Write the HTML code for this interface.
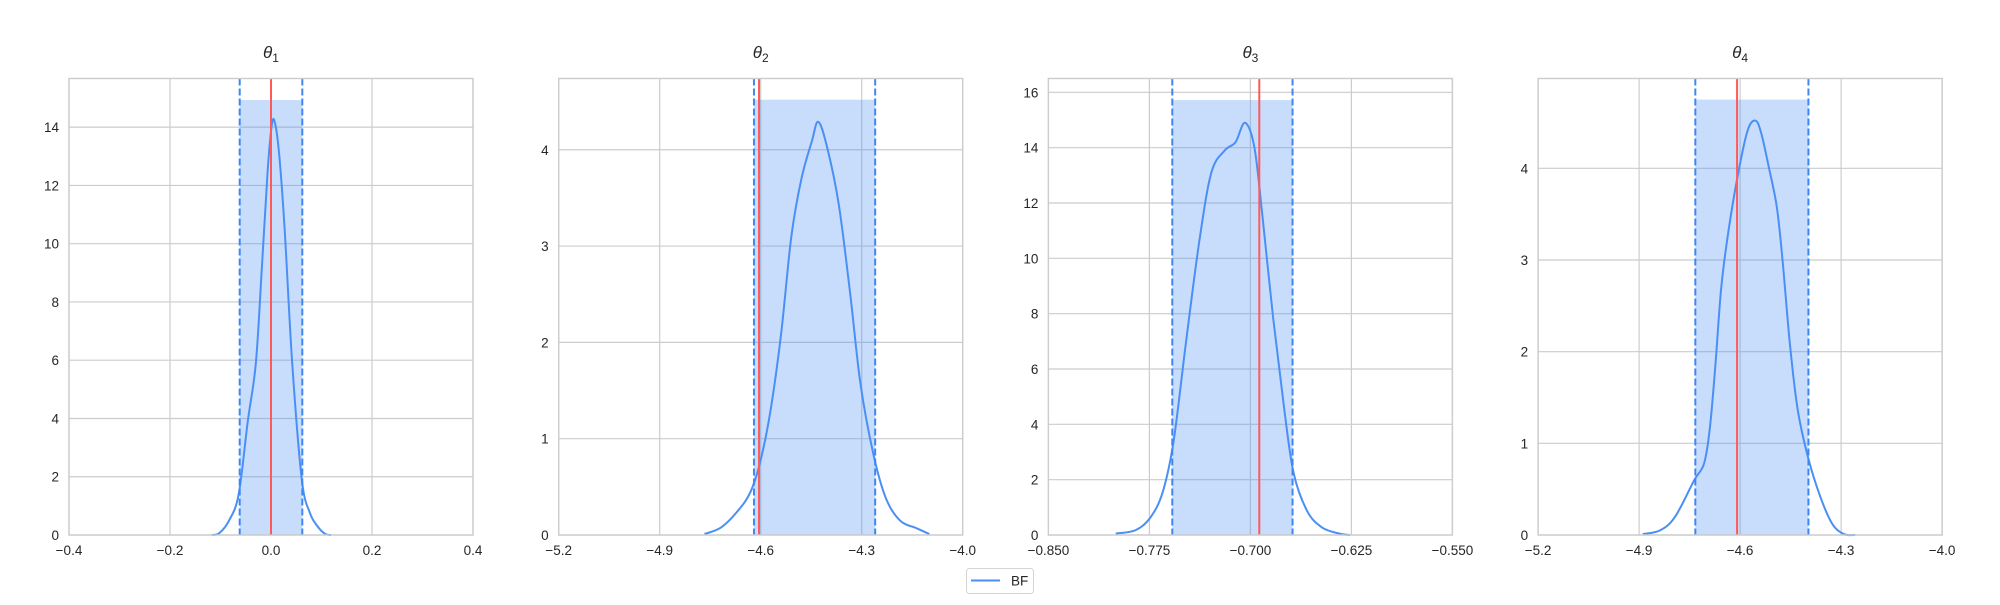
<!DOCTYPE html>
<html><head><meta charset="utf-8"><style>
body{margin:0;background:#fff;width:2000px;height:600px;overflow:hidden;font-family:"Liberation Sans","DejaVu Sans",sans-serif}
</style></head><body>
<svg id="chart" width="2000" height="600" xmlns="http://www.w3.org/2000/svg"></svg>
<script>
const titles=["1","2","3","4"];
const xDomains=[[-0.4,0.4],[-5.2,-4.0],[-0.85,-0.55],[-5.2,-4.0]];
const yMaxes=[15.67,4.74,16.5,4.98];
const xTickLabels=[["−0.4","−0.2","0.0","0.2","0.4"],["−5.2","−4.9","−4.6","−4.3","−4.0"],["−0.850","−0.775","−0.700","−0.625","−0.550"],["−5.2","−4.9","−4.6","−4.3","−4.0"]];
const xTickValues=[[-0.4,-0.2,0,0.2,0.4],[-5.2,-4.9,-4.6,-4.3,-4.0],[-0.85,-0.775,-0.7,-0.625,-0.55],[-5.2,-4.9,-4.6,-4.3,-4.0]];
const yTickValues=[[0,2,4,6,8,10,12,14],[0,1,2,3,4],[0,2,4,6,8,10,12,14,16],[0,1,2,3,4]];
const bandLo=[-0.062,-4.62,-0.758,-4.733];
const bandHi=[0.062,-4.26,-0.6687,-4.397];
const bandHeight=[14.93,4.52,15.72,4.75];
const trueValue=[0.0,-4.605,-0.6934,-4.609];
const kde1x=[-0.117,-0.102,-0.083,-0.064,-0.046,-0.030,-0.018,-0.007,0.001,0.007,0.016,0.027,0.042,0.061,0.077,0.092,0.107,0.119];
const kde1y=[0,0.07,0.5,1.4,3.9,5.9,9.2,12.4,14.0,14.2,13.1,10.5,5.9,1.9,0.76,0.3,0.04,0];
const kde2x=[-4.767,-4.717,-4.668,-4.630,-4.600,-4.570,-4.539,-4.509,-4.479,-4.448,-4.429,-4.403,-4.368,-4.334,-4.304,-4.266,-4.228,-4.186,-4.137,-4.099];
const kde2y=[0.01,0.08,0.25,0.45,0.78,1.31,2.1,3.1,3.7,4.09,4.29,4.03,3.43,2.5,1.58,0.85,0.38,0.15,0.07,0.01];
const kde3x=[-0.800,-0.785,-0.774,-0.765,-0.757,-0.748,-0.738,-0.729,-0.719,-0.711,-0.704,-0.697,-0.691,-0.683,-0.675,-0.668,-0.658,-0.647,-0.634,-0.626];
const kde3y=[0.05,0.18,0.65,1.57,3.4,6.9,10.6,13.1,13.9,14.2,14.9,14.0,11.5,7.8,4.6,2.26,0.88,0.28,0.05,0];
const kde4x=[-4.889,-4.838,-4.793,-4.736,-4.707,-4.690,-4.673,-4.656,-4.634,-4.605,-4.577,-4.554,-4.537,-4.514,-4.491,-4.474,-4.452,-4.429,-4.397,-4.361,-4.326,-4.292,-4.258];
const kde4y=[0.01,0.05,0.2,0.6,0.78,1.16,1.87,2.7,3.33,3.96,4.42,4.52,4.38,4.0,3.58,3.0,2.08,1.37,0.83,0.41,0.12,0.01,0];
const kdeX=[kde1x,kde2x,kde3x,kde4x];
const kdeY=[kde1y,kde2y,kde3y,kde4y];

const NS="http://www.w3.org/2000/svg";
const svg=document.getElementById('chart');
function mk(tag,attrs,parent){const e=document.createElementNS(NS,tag);for(const k in attrs)e.setAttribute(k,attrs[k]);(parent||svg).appendChild(e);return e;}
function smooth(pts){let d="M"+pts[0][0]+","+pts[0][1];for(let i=0;i<pts.length-1;i++){const p0=pts[Math.max(i-1,0)],p1=pts[i],p2=pts[i+1],p3=pts[Math.min(i+2,pts.length-1)];const c1=[p1[0]+(p2[0]-p0[0])/6,p1[1]+(p2[1]-p0[1])/6],c2=[p2[0]-(p3[0]-p1[0])/6,p2[1]-(p3[1]-p1[1])/6];d+=" C"+c1[0]+","+c1[1]+" "+c2[0]+","+c2[1]+" "+p2[0]+","+p2[1];}return d;}
const L0=69,PW=404,STEP=489.7,TOP=78.5,BOT=535;
for(let p=0;p<4;p++){
  const left=L0+STEP*p,right=left+PW;
  const [x0,x1]=xDomains[p];
  const X=v=>left+(v-x0)/(x1-x0)*PW;
  const Y=v=>BOT-v/yMaxes[p]*(BOT-TOP);
  const g=mk('g',{});
  
  
  xTickValues[p].forEach((v,i)=>{
    const l=mk('line',{x1:X(v),x2:X(v),y1:TOP,y2:BOT,stroke:'#cccccc','stroke-width':1.2},g);
    
    const t=mk('text',{x:X(v),y:BOT+20,'text-anchor':'middle','font-size':13.5,fill:'#262626'},g);
    t.textContent=xTickLabels[p][i];
    
  });
  yTickValues[p].forEach(v=>{
    const l=mk('line',{x1:left,x2:right,y1:Y(v),y2:Y(v),stroke:'#cccccc','stroke-width':1.2},g);
    
    const t=mk('text',{x:left-10,y:Y(v)+5,'text-anchor':'end','font-size':13.5,fill:'#262626'},g);
    t.textContent=String(v);
    
  });
  const band=mk('rect',{x:X(bandLo[p]),y:Y(bandHeight[p]),width:X(bandHi[p])-X(bandLo[p]),height:BOT-Y(bandHeight[p]),fill:'#4a8ff5','fill-opacity':0.3},g);
  
  const pts=kdeX[p].map((v,i)=>[X(v),Y(kdeY[p][i])]);
  const c=mk('path',{d:smooth(pts),fill:'none',stroke:'#4a8ff5','stroke-width':2},g);
  
  [bandLo[p],bandHi[p]].forEach(v=>{
    const l=mk('line',{x1:X(v),x2:X(v),y1:TOP,y2:BOT,stroke:'#3d87f5','stroke-width':2,'stroke-dasharray':'7,3'},g);
    
  });
  const r=mk('line',{x1:X(trueValue[p]),x2:X(trueValue[p]),y1:TOP,y2:BOT,stroke:'#ff5a5a','stroke-width':2},g);
  
  const fr=mk('rect',{x:left,y:TOP,width:PW,height:BOT-TOP,fill:'none',stroke:'#cccccc','stroke-width':1.4},g);
  
  const tt=mk('text',{x:left+PW/2,y:58,'text-anchor':'middle','font-size':17,fill:'#262626'},g);
  
  const a=mk('tspan',{'font-style':'italic'},tt);a.textContent='θ';
  const b=mk('tspan',{'font-size':12,dy:4},tt);b.textContent=titles[p];
}
const lg=mk('g',{});

mk('rect',{x:966.5,y:568.5,width:67,height:25,rx:3,fill:'#fff',stroke:'#d4d4d4'},lg);
const ll=mk('line',{x1:971,x2:1000,y1:580.5,y2:580.5,stroke:'#4a8ff5','stroke-width':2},lg);

const lt=mk('text',{x:1011,y:585.5,'font-size':13.5,fill:'#262626'},lg);lt.textContent='BF';

</script>
</body></html>
